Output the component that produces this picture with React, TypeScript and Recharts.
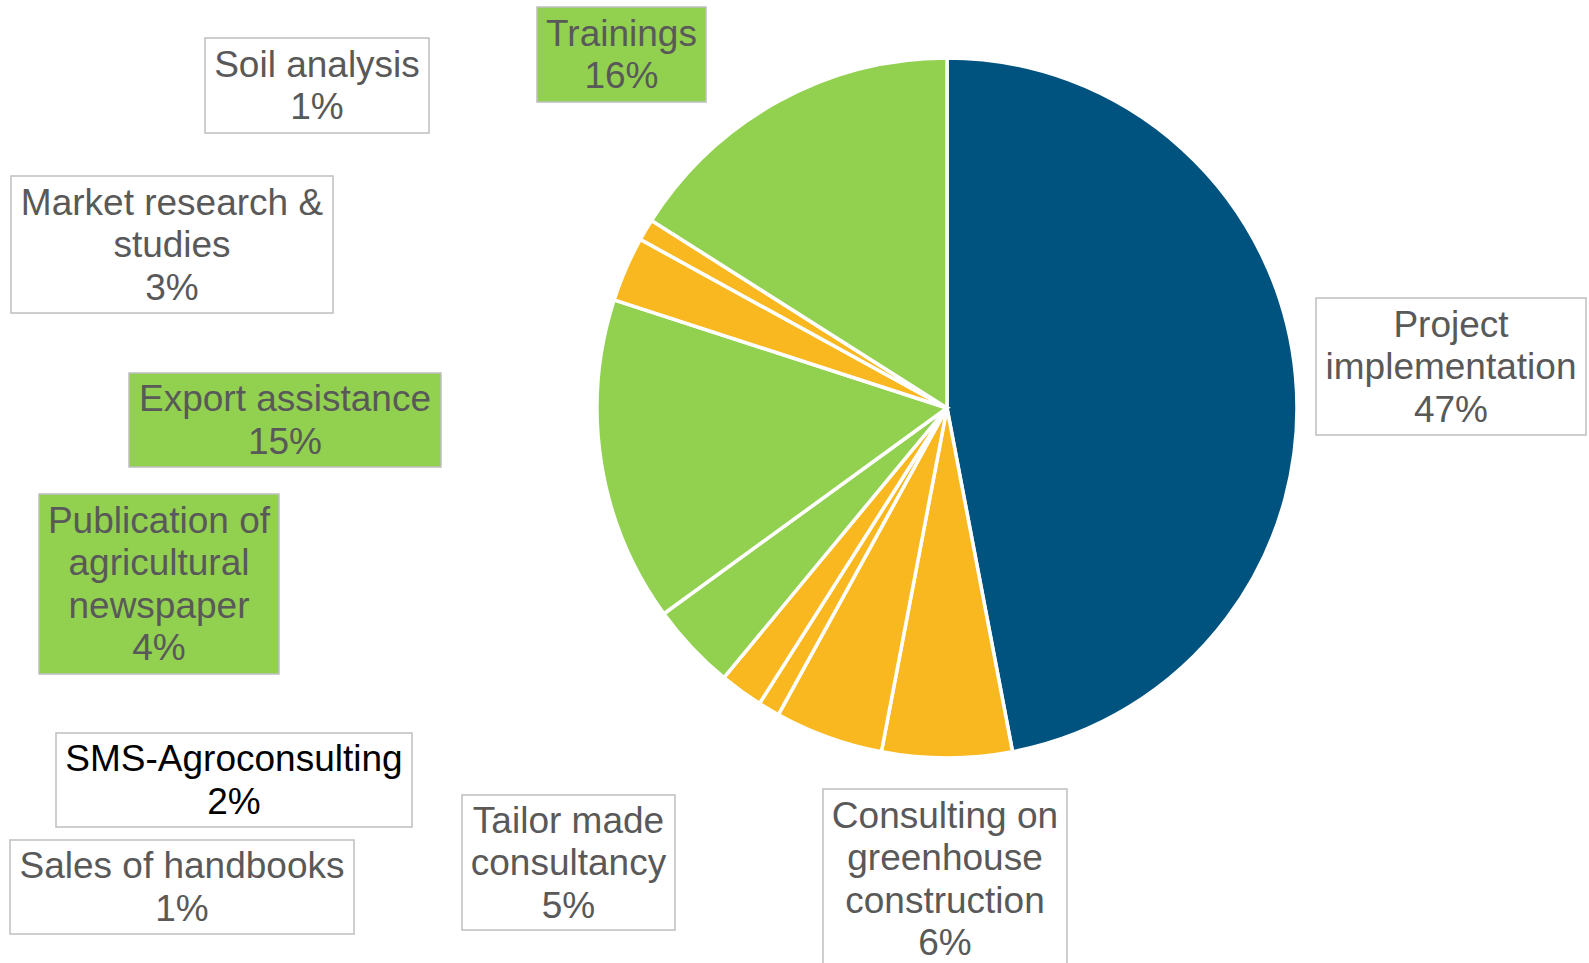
import React from "react";
import { PieChart, Pie, Cell } from "recharts";

// ---- data ----
const categories = [
  "Project implementation",
  "Consulting on greenhouse construction",
  "Tailor made consultancy",
  "Sales of handbooks",
  "SMS-Agroconsulting",
  "Publication of agricultural newspaper",
  "Export assistance",
  "Market research & studies",
  "Soil analysis",
  "Trainings",
];
const shares = [47, 6, 5, 1, 2, 4, 15, 3, 1, 16];
const labelLines = [
  ["Project", "implementation"],
  ["Consulting on", "greenhouse", "construction"],
  ["Tailor made", "consultancy"],
  ["Sales of handbooks"],
  ["SMS-Agroconsulting"],
  ["Publication of", "agricultural", "newspaper"],
  ["Export assistance"],
  ["Market research &", "studies"],
  ["Soil analysis"],
  ["Trainings"],
];

// ---- styles / layout ----
const BLUE = "#00537F";
const ORANGE = "#F9B81F";
const GREEN = "#92D050";
const sliceColors = [BLUE, ORANGE, ORANGE, ORANGE, ORANGE, GREEN, GREEN, ORANGE, ORANGE, GREEN];
const boxFills = ["#FFFFFF", "#FFFFFF", "#FFFFFF", "#FFFFFF", "#FFFFFF", GREEN, GREEN, "#FFFFFF", "#FFFFFF", GREEN];
const textColors = ["#595959", "#595959", "#595959", "#595959", "#000000", "#595959", "#595959", "#595959", "#595959", "#595959"];
// label box [left, top, right, bottom] in chart pixels
const labelBoxes = [
  [1316, 298, 1586, 435],
  [823, 789, 1067, 969],
  [462, 795, 675, 930],
  [10, 840, 354, 934],
  [56, 733, 412, 827],
  [39, 494, 279, 674],
  [129, 373, 441, 467],
  [11, 176, 333, 313],
  [205, 38, 429, 133],
  [537, 7, 706, 102],
];

const WIDTH = 1589;
const HEIGHT = 963;
const FONT = "'Liberation Sans', Arial, sans-serif";
const FONT_SIZE = 37;
const LINE_H = 42.5;

const data = categories.map((name, i) => ({ name, value: shares[i] }));

const renderLabel = (props: any) => {
  const i = props.index;
  const [x1, y1, x2, y2] = labelBoxes[i];
  const lines = [...labelLines[i], `${shares[i]}%`];
  const cxBox = (x1 + x2) / 2;
  const cyBox = (y1 + y2) / 2;
  const firstY = cyBox - ((lines.length - 1) * LINE_H) / 2;
  return (
    <g key={`lbl-${i}`}>
      <rect
        x={x1}
        y={y1}
        width={x2 - x1}
        height={y2 - y1}
        fill={boxFills[i]}
        stroke="#BFBFBF"
        strokeWidth={1.5}
      />
      {lines.map((t, k) => (
        <text
          key={k}
          x={cxBox}
          y={firstY + k * LINE_H}
          textAnchor="middle"
          dominantBaseline="central"
          fontFamily={FONT}
          fontSize={FONT_SIZE}
          fill={textColors[i]}
        >
          {t}
        </text>
      ))}
    </g>
  );
};

export default function App() {
  return (
    <div style={{ position: "absolute", left: 0, top: 0, width: WIDTH, height: HEIGHT, background: "#fff" }}>
      <PieChart width={WIDTH} height={HEIGHT} margin={{ top: 0, right: 0, bottom: 0, left: 0 }}>
        <Pie
          data={data}
          dataKey="value"
          nameKey="name"
          cx={947}
          cy={408}
          outerRadius={350}
          startAngle={90}
          endAngle={-270}
          stroke="#FFFFFF"
          strokeWidth={3.5}
          label={renderLabel}
          labelLine={false}
          isAnimationActive={false}
        >
          {data.map((d, i) => (
            <Cell key={d.name} fill={sliceColors[i]} />
          ))}
        </Pie>
      </PieChart>
    </div>
  );
}
